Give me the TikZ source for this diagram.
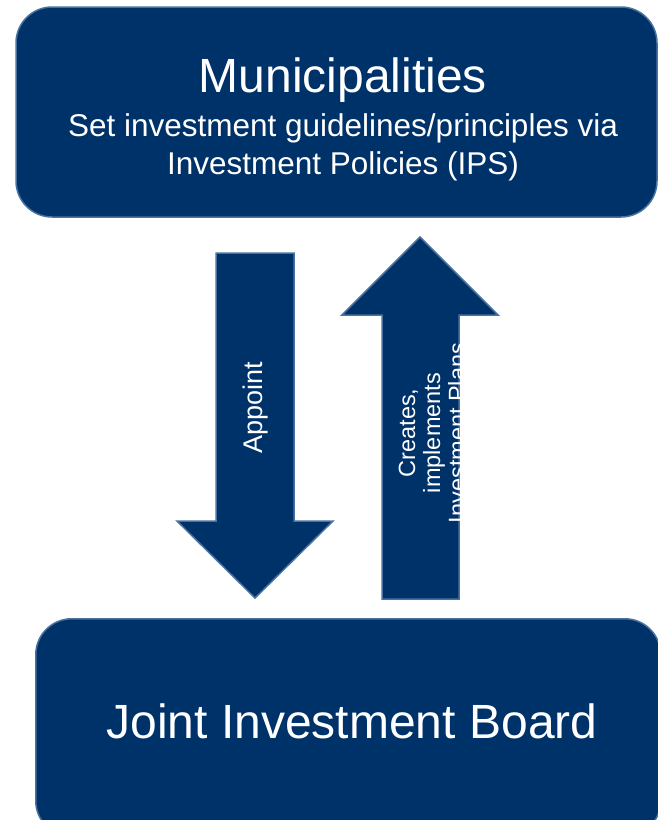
\documentclass[tikz,border=0pt]{standalone}
\usepackage{fontspec}
\setmainfont{Liberation Sans}
\definecolor{navy}{RGB}{0,50,106}
\definecolor{steel}{RGB}{74,114,160}
\tikzset{
  panel/.style={draw=steel,fill=navy,line width=1.5pt,rounded corners=36pt,inner sep=0pt},
  blockarrow/.style={draw=steel,fill=navy,line width=1.5pt},
  wtext/.style={text=white,inner sep=0pt},
}
\newcommand{\plansarrow}{(420,237) -- (498,315) -- (459,315) -- (459,599) -- (382,599) -- (382,315) -- (342,315) -- cycle}
\begin{document}
\begin{tikzpicture}[x=1pt,y=-1pt]
    \useasboundingbox (0,0) rectangle (658,820);
    % the two bodies
    \node[panel,minimum width=641pt,minimum height=210pt] (muni) at (336.5,112) {};
    \node[panel,minimum width=625pt,minimum height=218pt,anchor=north west] (jib) at (35,618) {};
    \node[wtext,anchor=base,font=\fontsize{48}{58}\selectfont] (munititle) at (343,92) {Municipalities};
    \node[wtext,anchor=base,font=\fontsize{31.5}{38}\selectfont] (munitask) at (343,136) {Set investment guidelines/principles via};
    \node[wtext,anchor=base,font=\fontsize{31.5}{38}\selectfont] (munipolicy) at (343,174) {Investment Policies (IPS)};
    \node[wtext,anchor=base,font=\fontsize{48}{56}\selectfont] (jibname) at (352,738) {Joint Investment Board};
    % down arrow
    \draw[blockarrow] (216,253) -- (294,253) -- (294,521) -- (333,521) -- (255,598) -- (177,521) -- (216,521) -- cycle;
    \node[wtext,rotate=90,font=\fontsize{27}{32}\selectfont] (appoint) at (256,408) {Appoint};
    % up arrow, its text is cut at the edge
    \draw[blockarrow] \plansarrow;
    \begin{scope}
        \clip \plansarrow;
        \node[wtext,rotate=90,align=center,font=\fontsize{23.5}{25}\selectfont] (plans) at (432,433) {Creates,\\implements\\Investment Plans};
    \end{scope}
\end{tikzpicture}
\end{document}
